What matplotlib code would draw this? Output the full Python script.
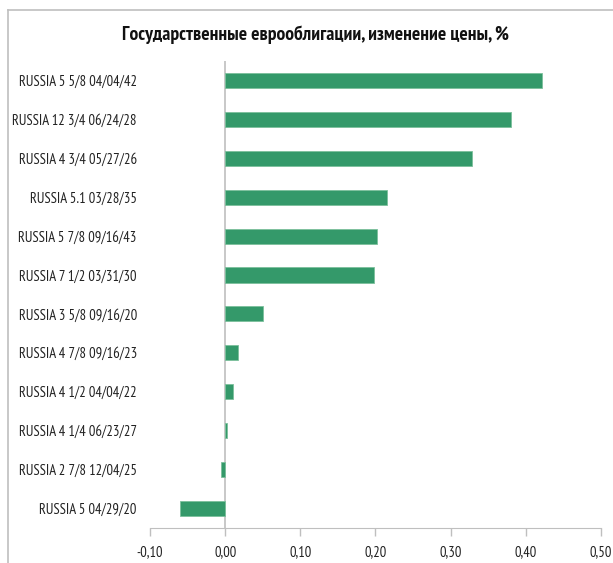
import matplotlib.pyplot as plt
from matplotlib.lines import Line2D

# data, top to bottom
bonds = ["RUSSIA 5 5/8 04/04/42", "RUSSIA 12 3/4 06/24/28", "RUSSIA 4 3/4 05/27/26",
         "RUSSIA 5.1 03/28/35", "RUSSIA 5 7/8 09/16/43", "RUSSIA 7 1/2 03/31/30",
         "RUSSIA 3 5/8 09/16/20", "RUSSIA 4 7/8 09/16/23", "RUSSIA 4 1/2 04/04/22",
         "RUSSIA 4 1/4 06/23/27", "RUSSIA 2 7/8 12/04/25", "RUSSIA 5 04/29/20"]
price_change = [0.421, 0.380, 0.328, 0.215, 0.202, 0.198,
                0.050, 0.017, 0.011, 0.003, -0.005, -0.060]
x_ticks = [-0.10, 0.00, 0.10, 0.20, 0.30, 0.40, 0.50]

plt.rcParams["font.family"] = ["PT Sans Narrow", "Carlito", "DejaVu Sans"]

fig = plt.figure(figsize=(6.13, 5.63), dpi=100)
ax = fig.add_axes([0.2447, 0.063, 0.7357, 0.828])

pos = list(range(len(bonds)))
ax.barh(pos, price_change, height=0.39, color="#34996a", edgecolor="#7cc09c", linewidth=0.6)
ax.set_ylim(len(bonds) - 0.5, -0.5)
ax.set_xlim(-0.10, 0.50)
ax.set_yticks(pos)
ax.set_yticklabels(bonds, fontsize=10.5, color="#222222")
ax.tick_params(axis="y", length=0, pad=9.5)
ax.set_xticks(x_ticks)
ax.set_xticklabels([f"{t:.2f}".replace(".", ",") for t in x_ticks], fontsize=10.5, color="#222222")
ax.tick_params(axis="x", direction="out", length=6, color="#bfbfbf", width=1, pad=7)

for s in ["top", "right", "left"]:
    ax.spines[s].set_visible(False)
ax.spines["bottom"].set_color("#bfbfbf")
ax.axvline(0, color="#bfbfbf", linewidth=1.2, zorder=0)

fig.text(0.514, 0.938, "Государственные еврооблигации, изменение цены, %",
         ha="center", va="center", fontsize=14, fontweight="bold", color="#111111")

# chart frame (partly cut off in the reference)
fig.add_artist(Line2D([8 / 613, 1.0], [1 - 10 / 563, 1 - 10 / 563], color="#bfbfbf", linewidth=1.2))
fig.add_artist(Line2D([8 / 613, 8 / 613], [0.0, 1 - 10 / 563], color="#bfbfbf", linewidth=1.2))

fig.savefig("out.png", dpi=100)
